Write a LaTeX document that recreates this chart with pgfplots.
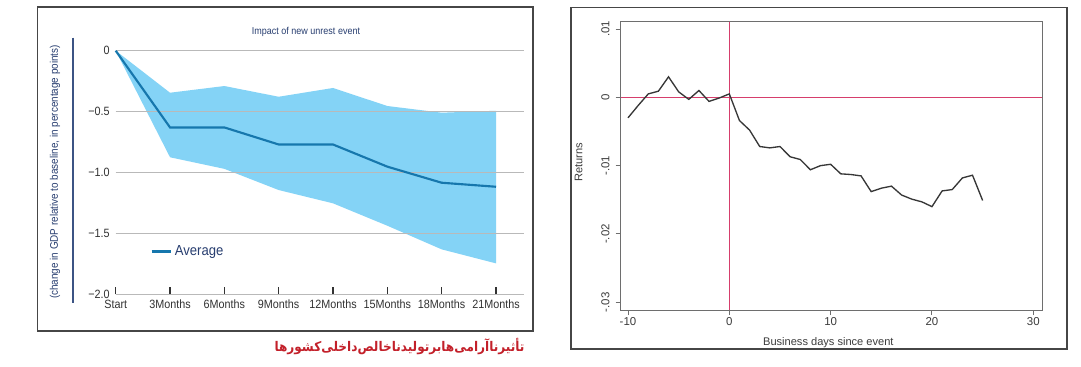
\documentclass[border=0pt]{standalone}
\usepackage{fontspec}
\setmainfont{Liberation Sans}
\newfontfamily\cond[FakeStretch=0.9]{Liberation Sans}
\newfontfamily\arabicfont[Script=Arabic, FakeStretch=0.906]{DejaVu Sans}
\usepackage{pgfplots}
\usepackage{pgfplotstable}
\pgfplotsset{compat=1.18}
\TeXXeTstate=1
\definecolor{band}{RGB}{132,211,246}
\definecolor{avgblue}{RGB}{22,119,173}
\definecolor{navy}{RGB}{40,62,112}
\definecolor{barnavy}{RGB}{60,84,132}
\definecolor{gridgray}{RGB}{185,185,185}
\definecolor{tickdark}{RGB}{50,50,50}
\definecolor{framegray}{RGB}{70,70,70}
\definecolor{axgray}{RGB}{110,110,110}
\definecolor{pinkred}{RGB}{214,62,108}
\definecolor{retline}{RGB}{55,55,55}
\definecolor{capred}{RGB}{195,32,42}
\definecolor{labgray}{RGB}{60,60,60}

% average path
\pgfplotstableread{
x avg
0 0
1 -0.63
2 -0.63
3 -0.77
4 -0.77
5 -0.952
6 -1.084
7 -1.117
}\gdp

% confidence band outline: upper bound left to right, then lower bound right to left
\pgfplotstableread{
x y
0 0
1 -0.345
2 -0.29
3 -0.378
4 -0.306
5 -0.454
6 -0.509
7 -0.493
7 -1.746
6 -1.631
5 -1.437
4 -1.253
3 -1.144
2 -0.97
1 -0.875
0 0
}\band

\pgfplotstableread{
d r
-10 -0.0030
-9 -0.0012
-8 0.0005
-7 0.0009
-6 0.0030
-5 0.0008
-4 -0.0003
-3 0.0010
-2 -0.0006
-1 -0.0001
0 0.0005
1 -0.0034
2 -0.0048
3 -0.0072
4 -0.0074
5 -0.0072
6 -0.0087
7 -0.0091
8 -0.0106
9 -0.0100
10 -0.0098
11 -0.0112
12 -0.0113
13 -0.0115
14 -0.0138
15 -0.0133
16 -0.0130
17 -0.0143
18 -0.0149
19 -0.0153
20 -0.0160
21 -0.0137
22 -0.0135
23 -0.0118
24 -0.0114
25 -0.0151
}\ret

\begin{document}
\begin{tikzpicture}
\fill[white] (0,0) rectangle (810.75pt,-275.25pt);

% frames
\draw[color=framegray, line width=0.9pt] (28.28pt,-5.25pt) rectangle (399.75pt,-248.25pt);
\draw[color=framegray, line width=0.8pt] (428.25pt,-5.5pt) rectangle (800.25pt,-261.75pt);
% decorative bar next to y label
\draw[color=barnavy, line width=1.5pt] (54.5pt,-28.3pt) -- (54.5pt,-227.25pt);

\begin{axis}[
  at={(86.78pt,-220.73pt)}, anchor=south west,
  scale only axis, width=306pt, height=182.7pt,
  xmin=0, xmax=7.51, ymin=-2, ymax=0, clip=false,
  axis line style={draw=none},
  ytick={-2,-1.5,-1,-0.5,0}, yticklabels={−2.0,−1.5,−1.0,−0.5,0},
  ytick style={draw=none},
  xtick={0,1,2,3,4,5,6,7},
  xticklabels={Start,3Months,6Months,9Months,12Months,15Months,18Months,21Months},
  xtick pos=bottom, ytick pos=left, tick align=inside, major tick length=5.25pt,
  xtick style={draw=tickdark, line width=1pt},
  ticklabel style={font=\cond\fontsize{9}{10}\selectfont, text=tickdark, inner sep=0pt},
  yticklabel style={anchor=east, xshift=-4.3pt},
  xticklabel style={anchor=north, yshift=-4.1pt},
  title={Impact of new unrest event},
  title style={at={(rel axis cs:0.4664,1.0862)}, anchor=center, yshift=-7.3pt, inner sep=0pt,
    font=\cond\fontsize{7.5}{9}\selectfont, text=navy},
  ylabel={(change in GDP relative to baseline, in percentage points)},
  ylabel style={at={(rel axis cs:-0.1488,0.502)}, anchor=center, inner sep=0pt,
    font=\cond\fontsize{8.25}{10}\selectfont, text=navy},
  legend style={at={(rel axis cs:0.084,0.175)}, anchor=west, draw=none, fill=none,
    inner sep=0pt, font=\cond\fontsize{10.9}{12}\selectfont, text=navy,
    cells={anchor=west}},
  legend image code/.code={\draw[#1, line width=2.2pt] (0pt,0pt) -- (14.25pt,0pt);},
]
\addplot[fill=band, draw=none, forget plot] table[x=x, y=y] {\band};
% horizontal gridlines drawn above the band
\addplot[color=gridgray, line width=0.85pt, forget plot] coordinates {(0,0) (7.51,0)};
\addplot[color=gridgray, line width=0.85pt, forget plot] coordinates {(0,-0.5) (7.51,-0.5)};
\addplot[color=gridgray, line width=0.85pt, forget plot] coordinates {(0,-1) (7.51,-1)};
\addplot[color=gridgray, line width=0.85pt, forget plot] coordinates {(0,-1.5) (7.51,-1.5)};
\addplot[color=gridgray, line width=0.85pt, forget plot] coordinates {(0,-2) (7.51,-2)};
\addplot[color=avgblue, line width=1.6pt] table[x=x, y=avg] {\gdp};
\addlegendentry{Average}
\end{axis}

% right panel: frame, ticks and labels
\begin{axis}[
  at={(465.53pt,-232.5pt)}, anchor=south west,
  scale only axis, width=316.2pt, height=216.23pt,
  xmin=-10.72, xmax=30.89, ymin=-0.03113, ymax=0.01107,
  xtick={-10,0,10,20,30}, xticklabels={-10,0,10,20,30},
  ytick={-0.03,-0.02,-0.01,0,0.01}, yticklabels={-.03,-.02,-.01,0,.01},
  scaled y ticks=false, scaled x ticks=false,
  tick pos=left, tick align=outside, major tick length=3.75pt,
  axis line style={draw=axgray, line width=0.75pt},
  tick style={draw=axgray, line width=0.75pt},
  ticklabel style={font=\fontsize{8.6}{10}\selectfont, text=labgray, inner sep=0pt},
  yticklabel style={xshift=-4.5pt, rotate=90, anchor=south},
  xticklabel style={anchor=north, yshift=-1.9pt},
  xlabel={Business days since event},
  xlabel style={at={(rel axis cs:0.4925,-0.11)}, anchor=center, yshift=-1pt, inner sep=0pt,
    font=\fontsize{8.3}{10}\selectfont, text=labgray},
  ylabel={Returns},
  ylabel style={at={(rel axis cs:-0.1001,0.5133)}, anchor=center, inner sep=0pt,
    font=\fontsize{8.3}{10}\selectfont, text=labgray},
]
\end{axis}

% right panel: data, in an identical hidden axis without clipping
\begin{axis}[
  at={(465.53pt,-232.5pt)}, anchor=south west,
  scale only axis, width=316.2pt, height=216.23pt,
  xmin=-10.72, xmax=30.89, ymin=-0.03113, ymax=0.01107,
  hide axis, clip=false,
]
\addplot[draw={rgb,255:red,214;green,62;blue,108}, line width=1.2pt] coordinates {(0,-0.03113) (0,0.01107)};
\addplot[draw={rgb,255:red,214;green,62;blue,108}, line width=1.2pt] coordinates {(-10.72,0) (30.89,0)};
\addplot[draw=retline, line width=1.0pt] table[x=d, y=r] {\ret};
\end{axis}

\node[anchor=east, inner sep=0pt, text=capred] at (393.5pt,-259.9pt)
  {\arabicfont\bfseries\fontsize{10}{12}\selectfont\beginR تأثیرناآرامی‌هابرتولیدناخالص‌داخلی‌کشورها\endR};
\end{tikzpicture}
\end{document}
